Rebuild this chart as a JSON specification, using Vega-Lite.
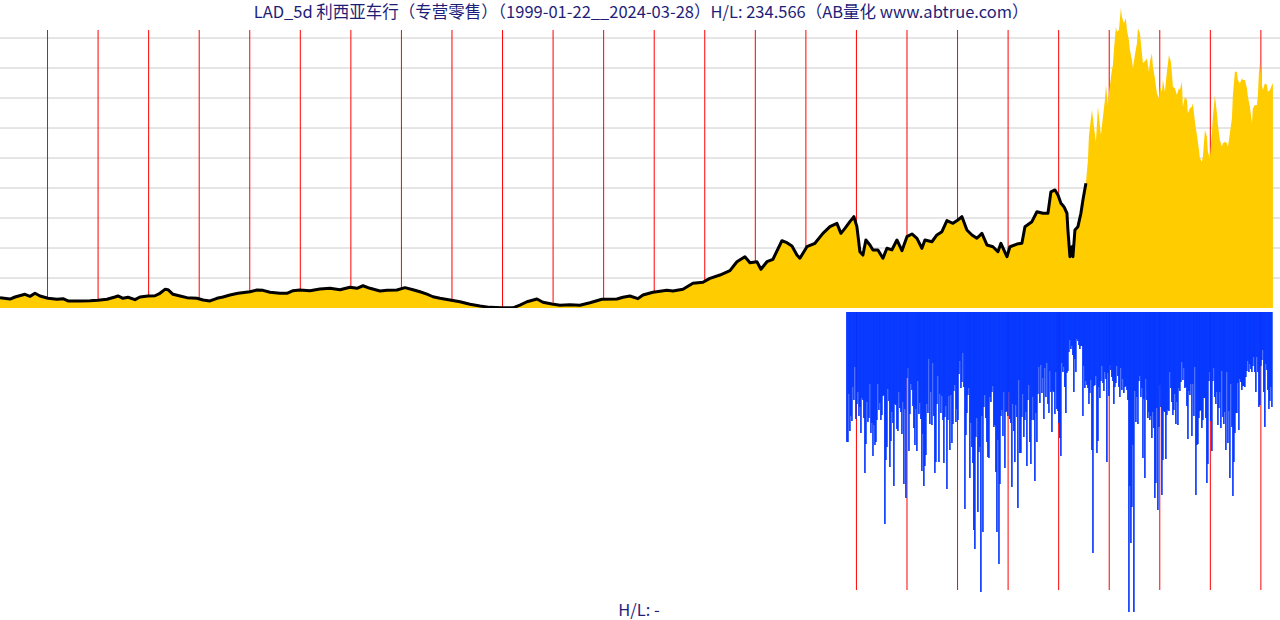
{
"$schema":"https://vega.github.io/schema/vega-lite/v6.json",
"padding":{"top":4,"left":0,"right":0,"bottom":0},
"background":"white",
"spacing":4,
"config":{"view":{"stroke":null},"concat":{"spacing":4}},
"datasets":{
"years":[{"t":2000},{"t":2001},{"t":2002},{"t":2003},{"t":2004},{"t":2005},{"t":2006},{"t":2007},{"t":2008},{"t":2009},{"t":2010},{"t":2011},{"t":2012},{"t":2013},{"t":2014},{"t":2015},{"t":2016},{"t":2017},{"t":2018},{"t":2019},{"t":2020},{"t":2021},{"t":2022},{"t":2023},{"t":2024}],
"grid":[{"g":23.46},{"g":46.92},{"g":70.38},{"g":93.84},{"g":117.3},{"g":140.76},{"g":164.22},{"g":187.68},{"g":211.14}],
"title":[{"label":"LAD_5d 利西亚车行（专营零售）（1999-01-22__2024-03-28）H/L: 234.566（AB量化  www.abtrue.com）","t":2011.74,"p":230.7}],
"foot":[{"label":"H/L: -","t":2011.70,"v":299}],
"price":[{"t":1999.06,"p":8.1},{"t":1999.258,"p":7.0},{"t":1999.357,"p":8.6},{"t":1999.554,"p":10.7},{"t":1999.653,"p":9.1},{"t":1999.752,"p":11.5},{"t":1999.851,"p":9.4},{"t":2000.009,"p":7.6},{"t":2000.187,"p":6.8},{"t":2000.306,"p":7.3},{"t":2000.405,"p":5.5},{"t":2000.642,"p":5.5},{"t":2000.84,"p":5.7},{"t":2000.998,"p":6.0},{"t":2001.176,"p":6.8},{"t":2001.334,"p":8.6},{"t":2001.394,"p":9.4},{"t":2001.493,"p":7.6},{"t":2001.592,"p":8.4},{"t":2001.73,"p":6.5},{"t":2001.829,"p":8.6},{"t":2001.987,"p":9.4},{"t":2002.126,"p":9.6},{"t":2002.224,"p":11.5},{"t":2002.323,"p":14.6},{"t":2002.383,"p":14.3},{"t":2002.482,"p":10.7},{"t":2002.62,"p":9.4},{"t":2002.758,"p":8.1},{"t":2002.956,"p":7.6},{"t":2003.075,"p":6.3},{"t":2003.213,"p":5.5},{"t":2003.352,"p":7.6},{"t":2003.47,"p":8.6},{"t":2003.609,"p":10.2},{"t":2003.767,"p":11.5},{"t":2004.005,"p":12.7},{"t":2004.143,"p":14.1},{"t":2004.262,"p":13.8},{"t":2004.4,"p":12.3},{"t":2004.598,"p":11.5},{"t":2004.736,"p":11.5},{"t":2004.855,"p":13.5},{"t":2004.993,"p":14.1},{"t":2005.191,"p":13.5},{"t":2005.389,"p":14.9},{"t":2005.587,"p":15.4},{"t":2005.785,"p":14.3},{"t":2005.982,"p":16.2},{"t":2006.121,"p":15.4},{"t":2006.239,"p":17.4},{"t":2006.378,"p":15.4},{"t":2006.576,"p":13.3},{"t":2006.714,"p":13.8},{"t":2006.912,"p":14.1},{"t":2007.07,"p":15.9},{"t":2007.228,"p":14.3},{"t":2007.367,"p":12.7},{"t":2007.505,"p":10.9},{"t":2007.624,"p":8.8},{"t":2007.762,"p":7.6},{"t":2007.96,"p":6.3},{"t":2008.158,"p":4.9},{"t":2008.356,"p":2.9},{"t":2008.553,"p":1.6},{"t":2008.751,"p":0.5},{"t":2008.989,"p":0.2},{"t":2009.206,"p":0.1},{"t":2009.344,"p":2.3},{"t":2009.483,"p":4.9},{"t":2009.681,"p":7.0},{"t":2009.799,"p":4.5},{"t":2009.977,"p":3.1},{"t":2010.136,"p":2.1},{"t":2010.333,"p":2.6},{"t":2010.531,"p":2.1},{"t":2010.729,"p":4.1},{"t":2010.966,"p":6.8},{"t":2011.263,"p":7.0},{"t":2011.382,"p":8.4},{"t":2011.52,"p":9.4},{"t":2011.678,"p":7.3},{"t":2011.777,"p":10.2},{"t":2011.975,"p":12.3},{"t":2012.252,"p":13.8},{"t":2012.37,"p":13.3},{"t":2012.568,"p":14.6},{"t":2012.766,"p":19.3},{"t":2012.964,"p":20.1},{"t":2013.102,"p":23.2},{"t":2013.3,"p":25.8},{"t":2013.498,"p":29.2},{"t":2013.636,"p":36.2},{"t":2013.794,"p":40.1},{"t":2013.894,"p":35.4},{"t":2014.032,"p":36.2},{"t":2014.111,"p":30.3},{"t":2014.23,"p":36.2},{"t":2014.348,"p":38.1},{"t":2014.526,"p":52.6},{"t":2014.625,"p":51.1},{"t":2014.724,"p":48.5},{"t":2014.823,"p":41.4},{"t":2014.882,"p":38.9},{"t":2015.021,"p":47.9},{"t":2015.179,"p":50.6},{"t":2015.337,"p":58.4},{"t":2015.476,"p":63.6},{"t":2015.614,"p":66.2},{"t":2015.693,"p":58.4},{"t":2015.772,"p":62.3},{"t":2015.871,"p":67.5},{"t":2015.95,"p":71.4},{"t":2016.009,"p":63.6},{"t":2016.069,"p":44.0},{"t":2016.128,"p":41.4},{"t":2016.187,"p":53.2},{"t":2016.267,"p":49.3},{"t":2016.326,"p":45.4},{"t":2016.425,"p":45.4},{"t":2016.524,"p":38.9},{"t":2016.603,"p":46.7},{"t":2016.702,"p":45.4},{"t":2016.801,"p":53.2},{"t":2016.9,"p":44.8},{"t":2016.999,"p":55.8},{"t":2017.098,"p":57.9},{"t":2017.197,"p":54.5},{"t":2017.295,"p":46.7},{"t":2017.355,"p":53.2},{"t":2017.493,"p":51.8},{"t":2017.592,"p":57.1},{"t":2017.691,"p":59.7},{"t":2017.79,"p":68.3},{"t":2017.909,"p":66.2},{"t":2018.007,"p":68.8},{"t":2018.087,"p":71.4},{"t":2018.185,"p":61.0},{"t":2018.284,"p":57.1},{"t":2018.383,"p":54.5},{"t":2018.482,"p":58.4},{"t":2018.581,"p":49.3},{"t":2018.7,"p":47.9},{"t":2018.799,"p":44.0},{"t":2018.858,"p":50.6},{"t":2018.977,"p":40.1},{"t":2019.036,"p":47.9},{"t":2019.175,"p":50.0},{"t":2019.273,"p":50.6},{"t":2019.333,"p":63.6},{"t":2019.471,"p":67.5},{"t":2019.57,"p":75.3},{"t":2019.689,"p":74.1},{"t":2019.788,"p":74.1},{"t":2019.847,"p":90.9},{"t":2019.927,"p":92.3},{"t":2019.986,"p":88.4},{"t":2020.045,"p":81.9},{"t":2020.104,"p":79.2},{"t":2020.164,"p":74.1},{"t":2020.183,"p":61.0},{"t":2020.223,"p":40.1},{"t":2020.263,"p":47.9},{"t":2020.282,"p":40.1},{"t":2020.322,"p":61.0},{"t":2020.381,"p":63.6},{"t":2020.44,"p":74.1},{"t":2020.48,"p":84.5},{"t":2020.539,"p":97.5},{"t":2020.579,"p":115.7},{"t":2020.598,"p":134.0},{"t":2020.638,"p":148.3},{"t":2020.658,"p":154.8},{"t":2020.697,"p":141.8},{"t":2020.737,"p":130.0},{"t":2020.777,"p":157.4},{"t":2020.836,"p":135.3},{"t":2020.876,"p":149.6},{"t":2020.915,"p":162.7},{"t":2020.935,"p":174.4},{"t":2020.974,"p":158.7},{"t":2020.994,"p":167.9},{"t":2021.053,"p":186.1},{"t":2021.073,"p":190.0},{"t":2021.093,"p":201.8},{"t":2021.132,"p":220.0},{"t":2021.152,"p":216.1},{"t":2021.192,"p":217.4},{"t":2021.231,"p":234.6},{"t":2021.251,"p":227.8},{"t":2021.291,"p":222.6},{"t":2021.33,"p":226.5},{"t":2021.35,"p":217.4},{"t":2021.389,"p":209.6},{"t":2021.409,"p":201.8},{"t":2021.449,"p":193.9},{"t":2021.469,"p":187.4},{"t":2021.508,"p":197.8},{"t":2021.548,"p":207.0},{"t":2021.567,"p":218.7},{"t":2021.607,"p":214.8},{"t":2021.647,"p":199.2},{"t":2021.666,"p":191.4},{"t":2021.726,"p":193.9},{"t":2021.745,"p":195.3},{"t":2021.785,"p":184.8},{"t":2021.805,"p":192.6},{"t":2021.844,"p":199.2},{"t":2021.864,"p":188.7},{"t":2021.904,"p":179.6},{"t":2021.943,"p":167.9},{"t":2021.983,"p":164.0},{"t":2022.002,"p":173.1},{"t":2022.042,"p":169.1},{"t":2022.062,"p":178.3},{"t":2022.101,"p":169.1},{"t":2022.141,"p":184.8},{"t":2022.181,"p":197.8},{"t":2022.22,"p":192.6},{"t":2022.24,"p":183.5},{"t":2022.26,"p":173.1},{"t":2022.299,"p":171.8},{"t":2022.339,"p":166.6},{"t":2022.378,"p":171.8},{"t":2022.398,"p":170.5},{"t":2022.438,"p":177.0},{"t":2022.457,"p":157.4},{"t":2022.497,"p":165.2},{"t":2022.537,"p":162.7},{"t":2022.556,"p":152.3},{"t":2022.596,"p":156.2},{"t":2022.635,"p":157.4},{"t":2022.655,"p":160.1},{"t":2022.695,"p":145.7},{"t":2022.734,"p":135.3},{"t":2022.754,"p":130.0},{"t":2022.794,"p":117.1},{"t":2022.833,"p":114.4},{"t":2022.853,"p":118.3},{"t":2022.893,"p":139.2},{"t":2022.932,"p":134.0},{"t":2022.952,"p":122.2},{"t":2022.991,"p":117.1},{"t":2023.031,"p":136.6},{"t":2023.051,"p":149.6},{"t":2023.09,"p":166.6},{"t":2023.13,"p":152.3},{"t":2023.15,"p":143.1},{"t":2023.189,"p":131.4},{"t":2023.229,"p":126.1},{"t":2023.249,"p":128.8},{"t":2023.288,"p":130.0},{"t":2023.328,"p":128.8},{"t":2023.348,"p":126.1},{"t":2023.387,"p":136.6},{"t":2023.427,"p":148.3},{"t":2023.446,"p":166.6},{"t":2023.486,"p":184.8},{"t":2023.526,"p":184.8},{"t":2023.545,"p":178.3},{"t":2023.585,"p":175.7},{"t":2023.625,"p":179.6},{"t":2023.644,"p":178.3},{"t":2023.684,"p":178.3},{"t":2023.724,"p":171.8},{"t":2023.743,"p":165.2},{"t":2023.783,"p":157.4},{"t":2023.823,"p":144.4},{"t":2023.842,"p":156.2},{"t":2023.882,"p":158.7},{"t":2023.922,"p":158.7},{"t":2023.941,"p":166.6},{"t":2023.961,"p":183.5},{"t":2023.981,"p":191.8},{"t":2024.02,"p":174.4},{"t":2024.04,"p":170.5},{"t":2024.08,"p":175.7},{"t":2024.119,"p":174.4},{"t":2024.139,"p":169.1},{"t":2024.179,"p":170.5},{"t":2024.218,"p":174.4},{"t":2024.238,"p":175.7}],
"vol":[{"t":2015.812,"v":130},{"t":2015.832,"v":130},{"t":2015.852,"v":82},{"t":2015.871,"v":119},{"t":2015.891,"v":104},{"t":2015.911,"v":109},{"t":2015.931,"v":75},{"t":2015.95,"v":88},{"t":2015.97,"v":55},{"t":2015.99,"v":107},
{"t":2016.01,"v":92},{"t":2016.03,"v":80},{"t":2016.05,"v":104},{"t":2016.069,"v":95},{"t":2016.089,"v":121},{"t":2016.109,"v":86},{"t":2016.129,"v":88},{"t":2016.148,"v":106},{"t":2016.168,"v":161},{"t":2016.188,"v":132},
{"t":2016.208,"v":90},{"t":2016.228,"v":110},{"t":2016.248,"v":106},{"t":2016.267,"v":72},{"t":2016.287,"v":121},{"t":2016.307,"v":111},{"t":2016.327,"v":144},{"t":2016.346,"v":113},{"t":2016.366,"v":133},{"t":2016.386,"v":130},
{"t":2016.405,"v":108},{"t":2016.425,"v":72},{"t":2016.445,"v":98},{"t":2016.464,"v":91},{"t":2016.484,"v":108},{"t":2016.504,"v":103},{"t":2016.524,"v":84},{"t":2016.543,"v":83},{"t":2016.563,"v":212},{"t":2016.583,"v":148},
{"t":2016.603,"v":135},{"t":2016.623,"v":77},{"t":2016.643,"v":89},{"t":2016.662,"v":155},{"t":2016.682,"v":129},{"t":2016.702,"v":100},{"t":2016.722,"v":111},{"t":2016.741,"v":174},{"t":2016.761,"v":92},{"t":2016.781,"v":93},
{"t":2016.801,"v":117},{"t":2016.821,"v":119},{"t":2016.841,"v":80},{"t":2016.86,"v":96},{"t":2016.88,"v":100},{"t":2016.9,"v":122},{"t":2016.92,"v":90},{"t":2016.939,"v":172},{"t":2016.959,"v":97},{"t":2016.979,"v":186},
{"t":2016.999,"v":66},{"t":2017.019,"v":56},{"t":2017.039,"v":139},{"t":2017.058,"v":102},{"t":2017.078,"v":72},{"t":2017.098,"v":78},{"t":2017.118,"v":94},{"t":2017.137,"v":116},{"t":2017.157,"v":133},{"t":2017.177,"v":97},
{"t":2017.196,"v":139},{"t":2017.216,"v":69},{"t":2017.236,"v":102},{"t":2017.255,"v":91},{"t":2017.275,"v":107},{"t":2017.295,"v":159},{"t":2017.315,"v":122},{"t":2017.334,"v":174},{"t":2017.354,"v":154},{"t":2017.374,"v":143},
{"t":2017.394,"v":92},{"t":2017.414,"v":101},{"t":2017.434,"v":47},{"t":2017.453,"v":112},{"t":2017.473,"v":80},{"t":2017.493,"v":113},{"t":2017.513,"v":51},{"t":2017.532,"v":104},{"t":2017.552,"v":161},{"t":2017.572,"v":150},
{"t":2017.592,"v":92},{"t":2017.612,"v":64},{"t":2017.632,"v":150},{"t":2017.651,"v":82},{"t":2017.671,"v":101},{"t":2017.691,"v":84},{"t":2017.711,"v":108},{"t":2017.73,"v":151},{"t":2017.75,"v":105},{"t":2017.77,"v":94},
{"t":2017.79,"v":177},{"t":2017.81,"v":108},{"t":2017.83,"v":84},{"t":2017.849,"v":138},{"t":2017.869,"v":83},{"t":2017.889,"v":131},{"t":2017.909,"v":112},{"t":2017.928,"v":79},{"t":2017.948,"v":73},{"t":2017.968,"v":110},
{"t":2017.988,"v":97},{"t":2018.008,"v":108},{"t":2018.028,"v":62},{"t":2018.047,"v":49},{"t":2018.067,"v":76},{"t":2018.087,"v":70},{"t":2018.107,"v":41},{"t":2018.126,"v":75},{"t":2018.146,"v":197},{"t":2018.166,"v":123},
{"t":2018.185,"v":101},{"t":2018.205,"v":83},{"t":2018.225,"v":76},{"t":2018.244,"v":166},{"t":2018.264,"v":111},{"t":2018.284,"v":135},{"t":2018.304,"v":151},{"t":2018.323,"v":218},{"t":2018.343,"v":237},{"t":2018.363,"v":125},
{"t":2018.383,"v":106},{"t":2018.403,"v":200},{"t":2018.423,"v":140},{"t":2018.442,"v":135},{"t":2018.462,"v":280},{"t":2018.482,"v":104},{"t":2018.502,"v":220},{"t":2018.521,"v":95},{"t":2018.541,"v":83},{"t":2018.561,"v":106},
{"t":2018.581,"v":130},{"t":2018.601,"v":145},{"t":2018.621,"v":146},{"t":2018.64,"v":85},{"t":2018.66,"v":90},{"t":2018.68,"v":80},{"t":2018.7,"v":74},{"t":2018.719,"v":115},{"t":2018.739,"v":113},{"t":2018.759,"v":160},
{"t":2018.779,"v":220},{"t":2018.799,"v":128},{"t":2018.819,"v":252},{"t":2018.838,"v":172},{"t":2018.858,"v":104},{"t":2018.878,"v":98},{"t":2018.898,"v":124},{"t":2018.917,"v":80},{"t":2018.937,"v":156},{"t":2018.957,"v":100},
{"t":2018.976,"v":99},{"t":2018.996,"v":104},{"t":2019.016,"v":80},{"t":2019.035,"v":107},{"t":2019.055,"v":111},{"t":2019.075,"v":175},{"t":2019.095,"v":92},{"t":2019.114,"v":119},{"t":2019.134,"v":150},{"t":2019.154,"v":93},
{"t":2019.174,"v":105},{"t":2019.194,"v":196},{"t":2019.214,"v":68},{"t":2019.233,"v":141},{"t":2019.253,"v":141},{"t":2019.273,"v":105},{"t":2019.293,"v":82},{"t":2019.312,"v":125},{"t":2019.332,"v":108},{"t":2019.352,"v":100},
{"t":2019.372,"v":154},{"t":2019.392,"v":88},{"t":2019.412,"v":73},{"t":2019.431,"v":130},{"t":2019.451,"v":152},{"t":2019.471,"v":108},{"t":2019.491,"v":85},{"t":2019.51,"v":108},{"t":2019.53,"v":169},{"t":2019.55,"v":101},
{"t":2019.57,"v":130},{"t":2019.59,"v":82},{"t":2019.61,"v":55},{"t":2019.629,"v":91},{"t":2019.649,"v":53},{"t":2019.669,"v":81},{"t":2019.689,"v":66},{"t":2019.708,"v":107},{"t":2019.728,"v":56},{"t":2019.748,"v":85},
{"t":2019.768,"v":51},{"t":2019.788,"v":92},{"t":2019.808,"v":101},{"t":2019.827,"v":59},{"t":2019.847,"v":80},{"t":2019.867,"v":120},{"t":2019.887,"v":79},{"t":2019.906,"v":80},{"t":2019.926,"v":102},{"t":2019.946,"v":60},
{"t":2019.965,"v":97},{"t":2019.985,"v":99},{"t":2020.005,"v":111},{"t":2020.024,"v":126},{"t":2020.044,"v":144},{"t":2020.064,"v":51},{"t":2020.084,"v":60},{"t":2020.103,"v":55},{"t":2020.123,"v":75},{"t":2020.143,"v":101},
{"t":2020.163,"v":61},{"t":2020.183,"v":59},{"t":2020.203,"v":40},{"t":2020.222,"v":28},{"t":2020.242,"v":37},{"t":2020.262,"v":34},{"t":2020.282,"v":43},{"t":2020.301,"v":80},{"t":2020.321,"v":47},{"t":2020.341,"v":60},
{"t":2020.361,"v":27},{"t":2020.381,"v":29},{"t":2020.401,"v":33},{"t":2020.42,"v":37},{"t":2020.44,"v":34},{"t":2020.46,"v":34},{"t":2020.48,"v":104},{"t":2020.499,"v":54},{"t":2020.519,"v":76},{"t":2020.539,"v":69},
{"t":2020.559,"v":73},{"t":2020.579,"v":76},{"t":2020.599,"v":92},{"t":2020.618,"v":81},{"t":2020.638,"v":68},{"t":2020.658,"v":138},{"t":2020.678,"v":241},{"t":2020.697,"v":74},{"t":2020.717,"v":73},{"t":2020.737,"v":64},
{"t":2020.757,"v":141},{"t":2020.777,"v":129},{"t":2020.797,"v":75},{"t":2020.816,"v":86},{"t":2020.836,"v":69},{"t":2020.856,"v":54},{"t":2020.876,"v":71},{"t":2020.895,"v":79},{"t":2020.915,"v":60},{"t":2020.935,"v":67},
{"t":2020.954,"v":150},{"t":2020.974,"v":61},{"t":2020.994,"v":84},{"t":2021.013,"v":53},{"t":2021.033,"v":58},{"t":2021.053,"v":65},{"t":2021.073,"v":69},{"t":2021.092,"v":92},{"t":2021.112,"v":75},{"t":2021.132,"v":71},
{"t":2021.152,"v":54},{"t":2021.172,"v":64},{"t":2021.192,"v":75},{"t":2021.211,"v":85},{"t":2021.231,"v":56},{"t":2021.251,"v":78},{"t":2021.271,"v":67},{"t":2021.29,"v":81},{"t":2021.31,"v":75},{"t":2021.33,"v":74},
{"t":2021.35,"v":78},{"t":2021.37,"v":88},{"t":2021.39,"v":300},{"t":2021.409,"v":174},{"t":2021.429,"v":231},{"t":2021.449,"v":195},{"t":2021.469,"v":133},{"t":2021.488,"v":300},{"t":2021.508,"v":79},{"t":2021.528,"v":110},
{"t":2021.548,"v":85},{"t":2021.568,"v":112},{"t":2021.588,"v":69},{"t":2021.607,"v":64},{"t":2021.627,"v":85},{"t":2021.647,"v":76},{"t":2021.667,"v":146},{"t":2021.686,"v":87},{"t":2021.706,"v":166},{"t":2021.726,"v":67},
{"t":2021.745,"v":88},{"t":2021.765,"v":106},{"t":2021.785,"v":100},{"t":2021.804,"v":108},{"t":2021.824,"v":104},{"t":2021.844,"v":126},{"t":2021.864,"v":100},{"t":2021.883,"v":116},{"t":2021.903,"v":186},{"t":2021.923,"v":171},
{"t":2021.943,"v":96},{"t":2021.963,"v":198},{"t":2021.983,"v":115},{"t":2022.002,"v":73},{"t":2022.022,"v":95},{"t":2022.042,"v":183},{"t":2022.062,"v":148},{"t":2022.081,"v":99},{"t":2022.101,"v":100},{"t":2022.121,"v":147},
{"t":2022.141,"v":103},{"t":2022.161,"v":98},{"t":2022.181,"v":99},{"t":2022.2,"v":60},{"t":2022.22,"v":76},{"t":2022.24,"v":90},{"t":2022.26,"v":103},{"t":2022.279,"v":98},{"t":2022.299,"v":82},{"t":2022.319,"v":112},
{"t":2022.339,"v":90},{"t":2022.359,"v":113},{"t":2022.379,"v":76},{"t":2022.398,"v":79},{"t":2022.418,"v":70},{"t":2022.438,"v":50},{"t":2022.458,"v":68},{"t":2022.477,"v":56},{"t":2022.497,"v":76},{"t":2022.517,"v":75},
{"t":2022.537,"v":94},{"t":2022.557,"v":127},{"t":2022.577,"v":79},{"t":2022.596,"v":83},{"t":2022.616,"v":72},{"t":2022.636,"v":124},{"t":2022.656,"v":72},{"t":2022.675,"v":104},{"t":2022.695,"v":55},{"t":2022.715,"v":183},
{"t":2022.734,"v":133},{"t":2022.754,"v":132},{"t":2022.774,"v":106},{"t":2022.793,"v":99},{"t":2022.813,"v":98},{"t":2022.833,"v":116},{"t":2022.853,"v":108},{"t":2022.872,"v":86},{"t":2022.892,"v":86},{"t":2022.912,"v":106},
{"t":2022.932,"v":171},{"t":2022.952,"v":152},{"t":2022.972,"v":69},{"t":2022.991,"v":60},{"t":2023.011,"v":109},{"t":2023.031,"v":139},{"t":2023.051,"v":69},{"t":2023.07,"v":56},{"t":2023.09,"v":85},{"t":2023.11,"v":92},
{"t":2023.13,"v":80},{"t":2023.15,"v":113},{"t":2023.17,"v":96},{"t":2023.189,"v":80},{"t":2023.209,"v":116},{"t":2023.229,"v":59},{"t":2023.249,"v":105},{"t":2023.268,"v":112},{"t":2023.288,"v":100},{"t":2023.308,"v":138},
{"t":2023.328,"v":60},{"t":2023.348,"v":131},{"t":2023.368,"v":99},{"t":2023.387,"v":166},{"t":2023.407,"v":72},{"t":2023.427,"v":115},{"t":2023.447,"v":184},{"t":2023.466,"v":150},{"t":2023.486,"v":121},{"t":2023.506,"v":101},
{"t":2023.525,"v":101},{"t":2023.545,"v":71},{"t":2023.565,"v":118},{"t":2023.584,"v":67},{"t":2023.604,"v":70},{"t":2023.624,"v":78},{"t":2023.644,"v":74},{"t":2023.663,"v":74},{"t":2023.683,"v":75},{"t":2023.703,"v":65},
{"t":2023.723,"v":59},{"t":2023.743,"v":49},{"t":2023.763,"v":60},{"t":2023.782,"v":52},{"t":2023.802,"v":57},{"t":2023.822,"v":60},{"t":2023.842,"v":54},{"t":2023.861,"v":45},{"t":2023.881,"v":60},{"t":2023.901,"v":80},
{"t":2023.921,"v":45},{"t":2023.941,"v":60},{"t":2023.961,"v":95},{"t":2023.98,"v":93},{"t":2024.0,"v":54},{"t":2024.02,"v":48},{"t":2024.04,"v":38},{"t":2024.059,"v":80},{"t":2024.079,"v":115},{"t":2024.099,"v":52},
{"t":2024.119,"v":58},{"t":2024.139,"v":78},{"t":2024.159,"v":97},{"t":2024.178,"v":89},{"t":2024.198,"v":75},{"t":2024.218,"v":95}]
},
"vconcat":[
{"width":1280,"height":278,
 "layer":[
 {"data":{"name":"grid"},"mark":{"type":"rule","color":"#cccccc","strokeWidth":1,"clip":true},
  "encoding":{"y":{"field":"g","type":"quantitative","scale":{"domain":[0,217.4],"nice":false,"zero":false},"axis":null}}},
 {"data":{"name":"years"},"mark":{"type":"rule","color":"#ff0000","strokeWidth":1,"clip":true},
  "encoding":{"x":{"field":"t","type":"quantitative","scale":{"domain":[1999.06,2024.378],"nice":false,"zero":false,"padding":0},"axis":null}}},
 {"data":{"name":"price"},"mark":{"type":"area","color":"#ffcc00","clip":false},
  "encoding":{"x":{"field":"t","type":"quantitative","scale":{"domain":[1999.06,2024.378],"nice":false,"zero":false,"padding":0},"axis":null},
  "y":{"field":"p","type":"quantitative","scale":{"domain":[0,217.4],"nice":false,"zero":false},"axis":null}}},
 {"data":{"name":"price"},"transform":[{"filter":"datum.t <= 2020.55"}],"mark":{"type":"line","color":"#000000","strokeWidth":3,"strokeJoin":"round","clip":true},
  "encoding":{"x":{"field":"t","type":"quantitative","scale":{"domain":[1999.06,2024.378],"nice":false,"zero":false,"padding":0},"axis":null},
  "y":{"field":"p","type":"quantitative","scale":{"domain":[0,217.4],"nice":false,"zero":false},"axis":null}}},
 {"data":{"name":"title"},"mark":{"type":"text","font":"Noto Sans CJK SC","fontSize":16.5,"color":"#1e1e78","align":"center","baseline":"middle","clip":false},
  "encoding":{"text":{"field":"label","type":"nominal"},
  "x":{"field":"t","type":"quantitative","scale":{"domain":[1999.06,2024.378],"nice":false,"zero":false,"padding":0},"axis":null},
  "y":{"field":"p","type":"quantitative","scale":{"domain":[0,217.4],"nice":false,"zero":false},"axis":null}}}
 ]},
{"width":1280,"height":278,
 "layer":[
 {"data":{"name":"years"},"transform":[{"filter":"datum.t >= 2016"}],"mark":{"type":"rule","color":"#ff0000","strokeWidth":1,"clip":true},
  "encoding":{"x":{"field":"t","type":"quantitative","scale":{"domain":[1999.06,2024.378],"nice":false,"zero":false,"padding":0},"axis":null}}},
 {"data":{"name":"vol"},"mark":{"type":"bar","color":"#0033ff","width":1.6,"clip":false},
  "encoding":{"x":{"field":"t","type":"quantitative","scale":{"domain":[1999.06,2024.378],"nice":false,"zero":false,"padding":0},"axis":null},
  "y":{"field":"v","type":"quantitative","scale":{"domain":[0,278],"reverse":true,"nice":false,"zero":false,"padding":0},"axis":null}}},
 {"data":{"name":"foot"},"mark":{"type":"text","font":"Noto Sans CJK SC","fontSize":16.5,"color":"#1e1e78","align":"center","baseline":"middle","clip":false},
  "encoding":{"text":{"field":"label","type":"nominal"},
  "x":{"field":"t","type":"quantitative","scale":{"domain":[1999.06,2024.378],"nice":false,"zero":false,"padding":0},"axis":null},
  "y":{"field":"v","type":"quantitative","scale":{"domain":[0,278],"reverse":true,"nice":false,"zero":false,"padding":0},"axis":null}}}
 ]}
]
}
